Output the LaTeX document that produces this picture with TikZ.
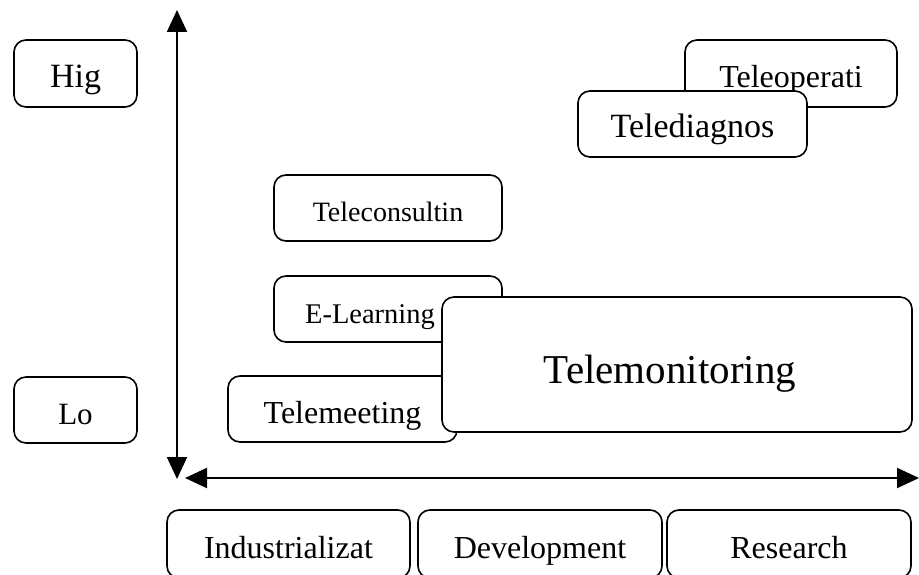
\documentclass[tikz,border=0pt]{standalone}
\usepackage{fontspec}
\setmainfont{Liberation Serif}
\usetikzlibrary{arrows.meta}

\begin{document}
\begin{tikzpicture}[x=1pt, y=-1pt,
    box/.style={draw, line width=1.6pt, rounded corners=12pt, fill=white,
      inner sep=0pt, text height=30pt, text depth=2pt,
      font=\fontsize{32}{36}\selectfont},
    axis/.style={line width=2pt, {Triangle[length=22pt,width=20pt]}-{Triangle[length=22pt,width=20pt]}}]
    \useasboundingbox (0,0) rectangle (919,575);
    % level labels
    \node[box, minimum width=123pt, minimum height=67pt, font=\fontsize{34}{40}\selectfont] (hig) at (75.5,73.5) {Hig};
    \node[box, minimum width=123pt, minimum height=66pt, font=\fontsize{31}{36}\selectfont] (lo) at (75.5,410) {Lo};
    % axes
    \coordinate (ytop) at (177,10);
    \coordinate (ybot) at (177,479);
    \coordinate (xleft) at (185,478);
    \coordinate (xright) at (919,478);
    \draw[axis] (ybot) -- (ytop);
    \draw[axis] (xleft) -- (xright);
    % applications
    \node[box, minimum width=212pt, minimum height=67pt, font=\fontsize{32}{36}\selectfont] (teleop) at (791,73.5) {Teleoperati};
    \node[box, minimum width=229pt, minimum height=66pt, font=\fontsize{34}{40}\selectfont] (telediag) at (692.5,124) {Telediagnos};
    \node[box, minimum width=228pt, minimum height=66pt, font=\fontsize{28}{32}\selectfont] (telecons) at (388,208) {Teleconsultin};
    \node[box, minimum width=228pt, minimum height=66pt, font=\fontsize{28.5}{32}\selectfont] (elearn) at (388,309) {E-Learning\hspace*{36pt}};
    \node[box, minimum width=229pt, minimum height=66pt] (telemeet) at (342.5,409) {Telemeeting};
    \node[box, minimum width=470pt, minimum height=135pt, text height=38pt, text depth=1pt,
      font=\fontsize{41}{46}\selectfont] (telemon) at (677,364.5) {Telemonitoring\hspace*{14pt}};
    % phases
    \node[box, minimum width=243pt, minimum height=68pt] (indus) at (288.5,544) {Industrializat};
    \node[box, minimum width=244pt, minimum height=68pt] (devel) at (540,544) {Development};
    \node[box, minimum width=244pt, minimum height=68pt] (resea) at (789,544) {Research};
\end{tikzpicture}
\end{document}
